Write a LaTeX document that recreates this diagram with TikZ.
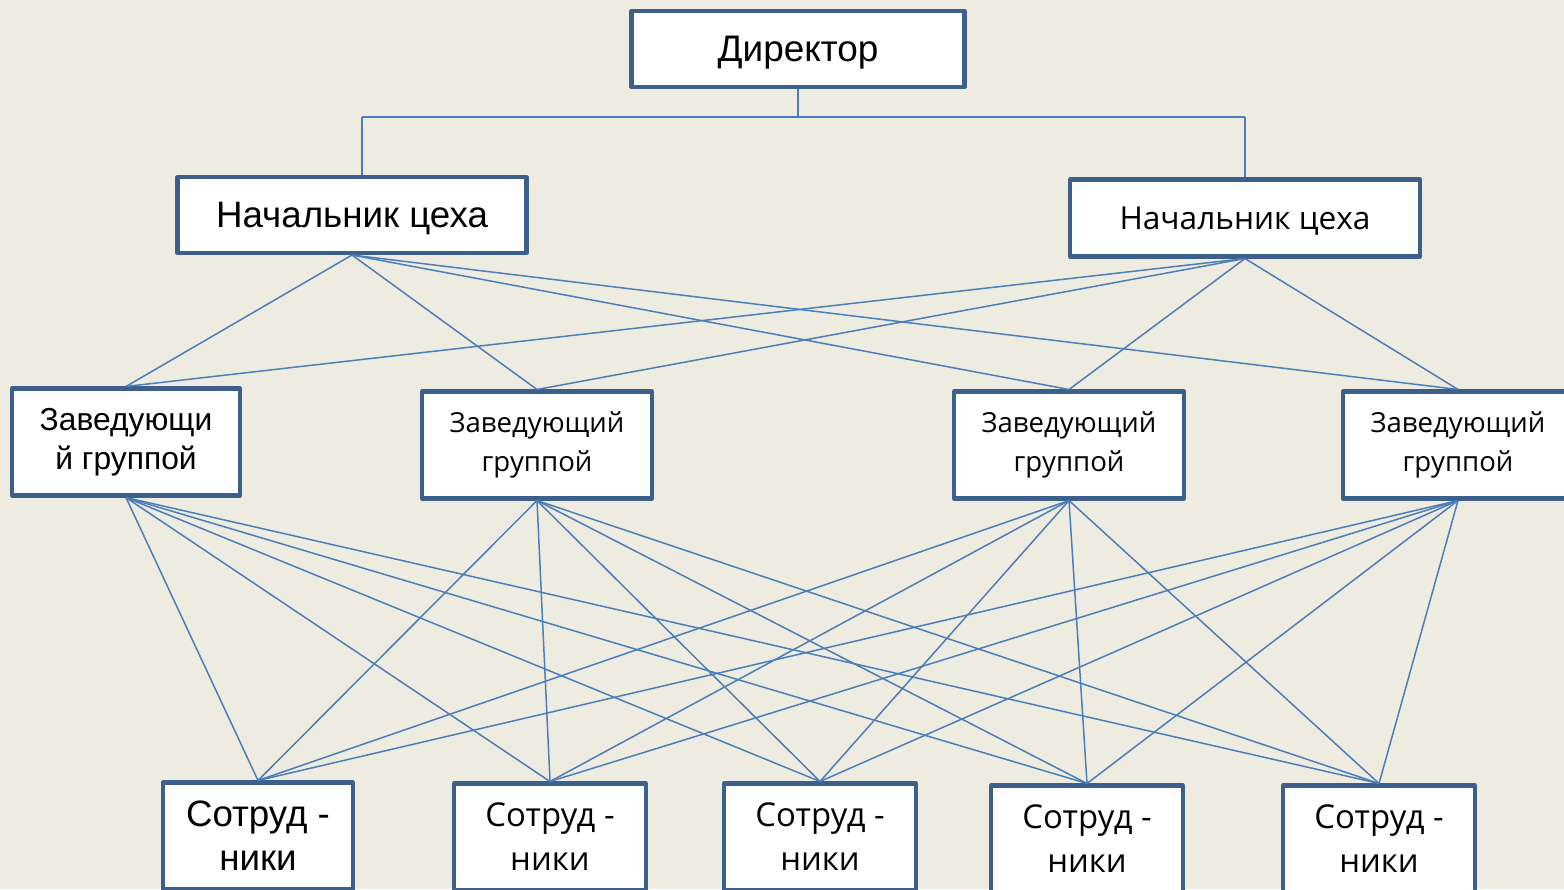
\documentclass[tikz,border=0pt]{standalone}
\usepackage{fontspec}
\setmainfont{Liberation Sans}
\newfontfamily\wideface{Open Sans}
\usepackage{tikz}
\usetikzlibrary{positioning}

\definecolor{paper}{HTML}{EEEBE0}
\definecolor{boxline}{HTML}{3D5F8C}
\definecolor{wire}{HTML}{4A7EBB}

\tikzset{
    post/.style={draw=boxline,line width=2.3pt,line join=round,fill=white,align=center,inner sep=0pt},
    wireline/.style={draw=wire,line width=0.85pt}
}

\begin{document}
\begin{tikzpicture}[x=0.02cm,y=-0.02cm]
    \useasboundingbox (0,0) rectangle (1564,889);
    \fill[paper] (0,0) rectangle (1564,889);
    \clip (0,0) rectangle (1564,889);

    % top
    \node[post,minimum width=333*0.02cm,minimum height=76*0.02cm,text depth=0pt,font=\fontsize{21}{25}\selectfont] (dir) at (798,49) {Директор};
    \node[post,minimum width=349*0.02cm,minimum height=76*0.02cm,text depth=0pt,font=\fontsize{20.9}{24}\selectfont] (nachL) at (352,215) {Начальник цеха};
    \node[post,minimum width=350*0.02cm,minimum height=77*0.02cm,text depth=0pt,font=\wideface\fontsize{18}{20}\selectfont] (nachR) at (1245,218) {Начальник цеха};

    % middle
    \node[post,minimum width=228*0.02cm,minimum height=107*0.02cm,font=\fontsize{18.1}{22}\selectfont] (zav1) at (126,442) {Заведующи\\й группой};
    \node[post,minimum width=230*0.02cm,minimum height=107*0.02cm,font=\wideface\fontsize{15.7}{22}\selectfont] (zav2) at (537,445) {Заведующий\\группой};
    \node[post,minimum width=230*0.02cm,minimum height=107*0.02cm,font=\wideface\fontsize{15.7}{22}\selectfont] (zav3) at (1069,445) {Заведующий\\группой};
    \node[post,minimum width=230*0.02cm,minimum height=107*0.02cm,font=\wideface\fontsize{15.7}{22}\selectfont] (zav4) at (1458,445) {Заведующий\\группой};

    % bottom
    \node[post,minimum width=190*0.02cm,minimum height=107*0.02cm,font=\fontsize{20.9}{25}\selectfont] (sot1) at (258,836) {Сотруд -\\ники};
    \node[post,minimum width=192*0.02cm,minimum height=107*0.02cm,font=\wideface\fontsize{18.7}{25}\selectfont] (sot2) at (550,837) {Сотруд -\\ники};
    \node[post,minimum width=192*0.02cm,minimum height=107*0.02cm,font=\wideface\fontsize{18.7}{25}\selectfont] (sot3) at (820,837) {Сотруд -\\ники};
    \node[post,minimum width=192*0.02cm,minimum height=107*0.02cm,font=\wideface\fontsize{18.7}{25}\selectfont] (sot4) at (1087,839) {Сотруд -\\ники};
    \node[post,minimum width=192*0.02cm,minimum height=107*0.02cm,font=\wideface\fontsize{18.7}{25}\selectfont] (sot5) at (1379,839) {Сотруд -\\ники};

    % director to heads
    \coordinate (busL) at (362,117);
    \coordinate (busR) at (1245,117);
    \draw[wireline] (dir.south) -- (dir.south |- busL);
    \draw[wireline] (busL) -- (busR);
    \draw[wireline] (busL) -- (busL |- nachL.north);
    \draw[wireline] (busR) -- (nachR.north);

    % heads to group leaders
    \foreach \n in {nachL,nachR}
        \foreach \z in {zav1,zav2,zav3,zav4}
            \draw[wireline] (\n.south) -- (\z.north);

    % group leaders to staff
    \foreach \z in {zav1,zav2,zav3,zav4}
        \foreach \s in {sot1,sot2,sot3,sot4,sot5}
            \draw[wireline] (\z.south) -- (\s.north);
\end{tikzpicture}
\end{document}
